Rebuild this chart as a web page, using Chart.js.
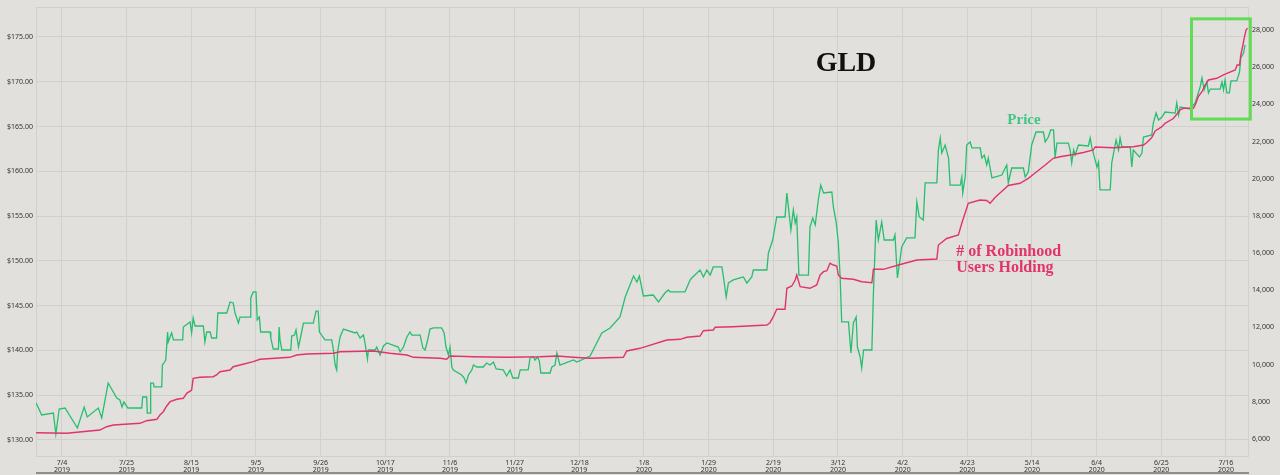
<!DOCTYPE html>
<html>
<head>
<meta charset="utf-8">
<script src="https://cdn.jsdelivr.net/npm/chart.js@4.4.1/dist/chart.umd.min.js"></script>
<style>
  html,body{margin:0;padding:0;background:#e2e0dc;}
  canvas{display:block;}
</style>
</head>
<body>
<canvas id="chart" width="1280" height="475"></canvas>
<script>
// ================= DATA =================
// x = days since 7/4/2019
const X_TICK_DAYS = [0,21,42,63,84,105,126,147,168,189,210,231,252,273,294,315,336,357,378];
const X_TICK_DATES = ['7/4','7/25','8/15','9/5','9/26','10/17','11/6','11/27','12/18','1/8','1/29','2/19','3/12','4/2','4/23','5/14','6/4','6/25','7/16'];
const X_TICK_YEARS = ['2019','2019','2019','2019','2019','2019','2019','2019','2019','2020','2020','2020','2020','2020','2020','2020','2020','2020','2020'];
const PRICE_TICKS = [130,135,140,145,150,155,160,165,170,175];
const USER_TICKS = [6000,8000,10000,12000,14000,16000,18000,20000,22000,24000,26000,28000];

// GLD price, [day, $]
const PRICE_POINTS = [
  [-8.4,134.13],[-7.8,133.68],[-6.6,132.79],[-2.8,133.01],[-2.0,130.67],[-0.9,133.46],[1.0,133.57],[5.0,131.34],[7.2,133.68],[8.2,132.57],
  [11.8,133.57],[12.9,132.46],[15.0,136.36],[17.8,134.69],[18.8,134.47],[19.5,133.68],[20.1,134.24],[21.4,133.57],[25.9,133.57],[26.2,134.80],
  [27.5,134.80],[27.7,133.01],[28.6,133.01],[28.8,136.36],[29.7,136.36],[29.9,135.92],[32.4,135.92],[32.6,138.37],[33.1,138.60],[33.7,138.93],
  [34.3,142.06],[34.5,140.94],[35.6,141.95],[36.2,141.17],[39.2,141.17],[39.4,142.62],[41.6,143.18],[42.1,141.95],[42.6,143.62],[43.2,142.73],
  [45.9,142.73],[46.4,140.94],[47.0,142.06],[48.1,142.06],[48.6,141.39],[50.2,141.39],[50.6,144.18],[53.5,144.18],[54.6,145.41],[55.6,145.30],
  [56.2,144.18],[57.3,143.06],[57.8,143.73],[61.1,143.73],[61.3,145.86],[62.1,146.53],[63.0,146.53],[63.4,143.40],[64.1,143.73],[64.5,142.06],
  [67.6,142.06],[67.8,141.39],[68.6,140.16],[70.3,140.16],[70.5,142.62],[70.8,141.17],[71.4,140.05],[74.3,140.05],[74.6,141.61],[75.5,141.72],
  [76.0,142.28],[76.8,140.38],[77.5,141.50],[78.4,143.06],[81.6,143.06],[82.5,144.40],[83.2,144.40],[83.6,142.06],[84.3,141.72],[85.4,141.17],
  [87.6,141.17],[88.1,140.16],[88.7,138.37],[89.2,137.82],[89.5,139.83],[90.3,141.50],[91.4,142.39],[95.2,141.95],[95.7,142.06],[96.8,141.39],
  [97.9,141.72],[98.4,140.83],[99.2,139.04],[99.5,140.05],[101.7,140.05],[102.2,140.38],[103.3,139.49],[104.4,140.50],[105.5,140.83],[109.2,140.38],
  [109.8,139.83],[110.9,140.38],[112.0,141.50],[113.0,142.06],[113.6,141.72],[116.3,141.72],[117.2,140.27],[117.9,140.05],[118.6,140.94],[119.5,142.39],
  [120.6,142.51],[123.3,142.51],[124.1,141.95],[124.7,140.38],[125.5,139.49],[126.0,140.38],[126.6,138.15],[127.1,137.82],[129.8,137.26],[130.6,136.92],
  [131.2,136.36],[132.0,137.26],[133.1,137.82],[133.6,138.37],[134.7,138.15],[136.8,138.15],[137.9,138.60],[139.0,138.37],[140.1,138.71],[141.0,137.93],
  [143.3,137.82],[144.4,137.15],[145.5,137.82],[146.4,136.92],[148.2,136.92],[148.8,137.82],[151.4,137.82],[152.0,139.16],[153.1,139.27],[153.6,138.93],
  [154.4,139.27],[155.0,138.82],[155.5,137.48],[158.5,137.48],[159.1,138.15],[160.1,138.37],[160.7,139.71],[161.7,138.37],[166.1,138.93],[167.2,138.71],
  [171.5,139.38],[175.3,141.95],[178.0,142.51],[181.2,143.73],[182.9,145.97],[185.6,148.31],[186.7,147.64],[187.5,148.31],[188.8,146.08],[192.0,146.19],
  [193.7,145.41],[195.8,146.41],[196.9,146.75],[197.5,146.53],[202.3,146.53],[204.0,147.87],[204.5,148.09],[207.2,148.98],[208.3,148.20],[209.4,148.98],
  [210.5,148.42],[211.5,149.32],[214.3,149.32],[214.8,148.20],[215.7,145.97],[216.4,147.53],[218.0,147.87],[220.2,148.09],[221.3,148.20],[222.4,147.53],
  [224.0,148.20],[224.5,148.98],[228.9,148.98],[229.4,150.88],[230.8,152.33],[232.1,154.90],[234.8,154.90],[235.4,157.58],[235.9,156.02],[236.7,153.45],
  [237.5,155.68],[238.1,154.23],[238.6,154.90],[239.3,148.42],[242.4,148.42],[242.9,153.78],[243.8,154.79],[244.6,154.01],[245.6,156.80],[246.4,158.47],
  [247.3,157.58],[250.0,157.69],[250.5,156.02],[251.4,154.34],[252.1,152.11],[252.7,148.20],[253.2,143.18],[255.4,143.18],[256.2,139.71],[257.0,143.06],
  [257.9,143.73],[258.3,140.38],[259.2,139.27],[259.7,138.04],[260.3,140.05],[263.0,140.05],[263.5,146.41],[264.4,154.57],[265.1,152.33],[266.2,154.34],
  [267.0,152.33],[270.0,152.33],[270.5,152.89],[271.3,148.09],[272.7,151.55],[274.3,152.56],[277.0,152.56],[277.6,156.58],[278.4,154.90],[279.7,154.57],
  [280.3,158.70],[284.1,158.70],[284.6,162.38],[285.2,163.72],[285.7,162.05],[286.8,162.94],[287.9,161.49],[288.4,158.47],[291.7,158.47],[292.2,159.37],
  [292.5,157.58],[293.3,159.37],[293.8,162.94],[294.9,163.28],[295.5,162.61],[298.2,162.61],[298.7,161.49],[299.5,161.82],[300.3,160.71],[300.8,161.49],
  [302.0,159.26],[305.2,159.59],[306.3,160.37],[306.8,160.71],[307.3,158.70],[308.4,160.37],[312.2,160.37],[312.8,159.37],[313.8,159.93],[314.9,162.94],
  [316.3,164.39],[318.7,164.39],[319.3,163.28],[320.3,163.83],[321.1,164.62],[322.0,164.62],[322.5,161.49],[323.1,163.16],[326.8,163.16],[327.4,162.38],
  [327.9,160.93],[328.5,162.38],[329.0,161.82],[330.1,162.94],[333.3,162.83],[333.9,163.72],[334.4,162.72],[335.5,161.27],[336.1,160.48],[336.6,161.04],
  [337.1,157.92],[340.4,157.92],[340.9,160.93],[342.3,163.50],[343.1,162.38],[343.6,163.72],[344.2,162.72],[346.9,162.72],[347.4,160.48],[347.9,162.38],
  [349.9,161.60],[350.7,162.05],[351.2,163.83],[353.9,164.06],[354.4,165.40],[355.3,166.51],[356.1,165.73],[357.2,166.07],[358.2,166.62],[361.5,166.51],
  [362.0,167.63],[362.6,166.29],[363.1,167.18],[366.4,166.96],[368.0,167.63],[369.6,169.42],[370.2,170.42],[370.9,169.08],[371.8,169.97],[372.3,168.75],
  [372.9,169.19],[376.1,169.19],[376.7,169.97],[377.2,169.08],[377.7,170.20],[378.3,168.75],[379.1,168.75],[379.6,170.09],[381.5,170.09],[382.4,171.09],
  [382.8,172.65],[383.7,173.21],[384.2,174.11]
];

// # of Robinhood users holding GLD, [day, users]
const USER_POINTS = [
  [-8.4,6339],[1.5,6307],[12.3,6484],[14.5,6662],[16.7,6753],[25.3,6845],[27.5,6984],[30.8,7060],[31.8,7291],[32.9,7469],
  [34.0,7775],[35.1,8006],[37.3,8136],[39.4,8189],[40.5,8458],[42.1,8636],[42.6,9265],[44.8,9319],[49.1,9351],[50.2,9443],
  [51.3,9620],[54.6,9712],[55.6,9889],[57.8,9980],[62.1,10158],[64.3,10287],[74.0,10395],[76.2,10518],[79.5,10572],[88.1,10610],
  [90.3,10696],[101.1,10734],[106.5,10610],[112.0,10518],[114.1,10395],[122.8,10341],[124.9,10287],[126.0,10465],[133.6,10427],[144.4,10395],
  [155.2,10427],[160.7,10465],[166.1,10395],[171.5,10341],[182.3,10395],[183.4,10734],[187.7,10879],[196.4,11325],[200.7,11363],[202.9,11470],
  [207.2,11540],[208.3,11825],[211.5,11863],[212.1,12008],[218.0,12041],[228.9,12132],[229.9,12256],[231.0,12579],[232.1,12977],[234.8,12977],
  [235.4,14106],[237.0,14230],[238.1,14553],[238.6,14822],[239.7,14192],[242.9,14106],[245.1,14284],[246.2,14822],[247.3,14999],[248.4,15053],
  [249.4,15451],[250.5,15359],[251.6,15306],[252.1,14822],[253.2,14644],[257.0,14590],[259.7,14461],[263.0,14407],[263.5,15128],[266.7,15128],
  [272.2,15386],[277.6,15628],[284.1,15682],[284.6,16435],[287.3,16785],[291.1,16973],[292.2,17602],[293.6,18318],[294.3,18678],[298.1,18856],
  [300.3,18829],[301.4,18678],[303.0,18990],[304.6,19232],[307.3,19636],[311.1,19754],[313.8,20023],[316.0,20308],[319.3,20738],[321.9,21099],
  [324.1,21185],[328.5,21304],[331.7,21411],[334.9,21545],[335.5,21707],[341.4,21664],[347.9,21723],[351.2,21814],[352.3,21949],[353.9,22218],
  [355.0,22567],[357.2,22799],[358.2,22982],[360.9,23240],[363.1,23697],[364.2,23789],[367.4,23789],[368.0,23966],[369.0,24412],[370.2,24682],
  [371.2,25042],[372.3,25311],[375.0,25402],[377.2,25580],[378.3,25671],[381.0,25849],[381.6,26117],[382.4,26117],[382.8,26655],[383.5,27193],
  [383.9,27554],[384.5,28000],[385.0,28092]
];

// text notes and highlight box, placed in data units
const NOTES = [
  {text:'GLD', day:254.6, axis:'y', value:171.2, kind:'title'},
  {text:'Price', day:307.0, axis:'y', value:165.28, kind:'price'},
  {text:'# of Robinhood', day:290.4, axis:'y2', value:15817, kind:'users'},
  {text:'Users Holding', day:290.4, axis:'y2', value:14967, kind:'users'}
];
const HIGHLIGHT = {dayFrom:366.8, dayTo:385.9, usersFrom:23210, usersTo:28600};

// ================= STYLE =================
const BG = '#e2e0dc';
const GRID = '#d2d0cc';
const GREEN = '#27be6f';
const PINK = '#e2336d';
const TICK_FONT = {family:'"Noto Sans", "DejaVu Sans", sans-serif', size:7, lineHeight:1};
const NOTE_STYLE = {
  title:{font:'bold 28px "Liberation Serif", "DejaVu Serif", serif', color:'#111111', align:'center'},
  price:{font:'bold 15px "Liberation Serif", "DejaVu Serif", serif', color:'#3fc684', align:'left'},
  users:{font:'bold 16px "Liberation Serif", "DejaVu Serif", serif', color:'#e2336d', align:'left'}
};

const overlay = {
  id:'overlay',
  beforeDraw(c){
    const ctx=c.ctx;
    ctx.save();
    ctx.fillStyle=BG;
    ctx.fillRect(0,0,c.width,c.height);
    ctx.restore();
  },
  beforeDatasetsDraw(c){
    const a=c.chartArea, ctx=c.ctx;
    ctx.save();
    ctx.strokeStyle=GRID;
    ctx.lineWidth=1;
    ctx.strokeRect(a.left+0.5,a.top+0.5,a.width-1,a.height-1);
    ctx.restore();
  },
  afterDraw(c){
    const ctx=c.ctx, sx=c.scales.x;
    ctx.save();
    // highlight box
    const bx1=sx.getPixelForValue(HIGHLIGHT.dayFrom), bx2=sx.getPixelForValue(HIGHLIGHT.dayTo);
    const by1=c.scales.y2.getPixelForValue(HIGHLIGHT.usersTo), by2=c.scales.y2.getPixelForValue(HIGHLIGHT.usersFrom);
    ctx.strokeStyle='#62dc55';
    ctx.lineWidth=3;
    ctx.strokeRect(bx1,by1,bx2-bx1,by2-by1);
    // notes
    NOTES.forEach(n=>{
      const st=NOTE_STYLE[n.kind];
      ctx.font=st.font;
      ctx.fillStyle=st.color;
      ctx.textAlign=st.align;
      ctx.textBaseline='alphabetic';
      ctx.fillText(n.text, sx.getPixelForValue(n.day), c.scales[n.axis].getPixelForValue(n.value));
    });
    // bottom bar under the date axis
    ctx.fillStyle='#8e8e8c';
    ctx.fillRect(c.chartArea.left, c.height-3, c.chartArea.width, 2);
    ctx.restore();
  }
};

let chart = new Chart(document.getElementById('chart'), {
  type:'line',
  data:{
    datasets:[
      {label:'# of Robinhood Users Holding', data:USER_POINTS.map(p=>({x:p[0],y:p[1]})), yAxisID:'y2',
       borderColor:PINK, borderWidth:1.4, pointRadius:0, tension:0},
      {label:'Price', data:PRICE_POINTS.map(p=>({x:p[0],y:p[1]})), yAxisID:'y',
       borderColor:GREEN, borderWidth:1.3, pointRadius:0, tension:0}
    ]
  },
  options:{
    responsive:false,
    devicePixelRatio:1,
    animation:false,
    layout:{padding:{top:7,left:0,right:0,bottom:0}},
    plugins:{legend:{display:false}, tooltip:{enabled:false}, title:{display:false}},
    scales:{
      x:{
        type:'linear', position:'bottom', min:-8.44, max:385.47,
        afterBuildTicks:s=>{ s.ticks = X_TICK_DAYS.map(v=>({value:v})); },
        afterFit:s=>{ s.height = 18; },
        ticks:{autoSkip:false, maxRotation:0, padding:2, color:'#333', font:TICK_FONT,
          callback:(v,i)=>[X_TICK_DATES[i], X_TICK_YEARS[i]]},
        grid:{color:GRID, lineWidth:1, drawTicks:false},
        border:{display:false}
      },
      y:{
        type:'linear', position:'left', min:128.1, max:178.35,
        afterBuildTicks:s=>{ s.ticks = PRICE_TICKS.map(v=>({value:v})); },
        afterFit:s=>{ s.width = 36; },
        ticks:{padding:3, color:'#333', font:TICK_FONT, callback:v=>'$'+v.toFixed(2)},
        grid:{color:GRID, lineWidth:1, drawTicks:false},
        border:{display:false}
      },
      y2:{
        type:'linear', position:'right', min:5032, max:29237,
        afterBuildTicks:s=>{ s.ticks = USER_TICKS.map(v=>({value:v})); },
        afterFit:s=>{ s.width = 31; },
        ticks:{padding:3, color:'#333', font:TICK_FONT, callback:v=>v.toLocaleString('en-US')},
        grid:{display:false, drawTicks:false},
        border:{display:false}
      }
    }
  },
  plugins:[overlay]
});
</script>
</body>
</html>
